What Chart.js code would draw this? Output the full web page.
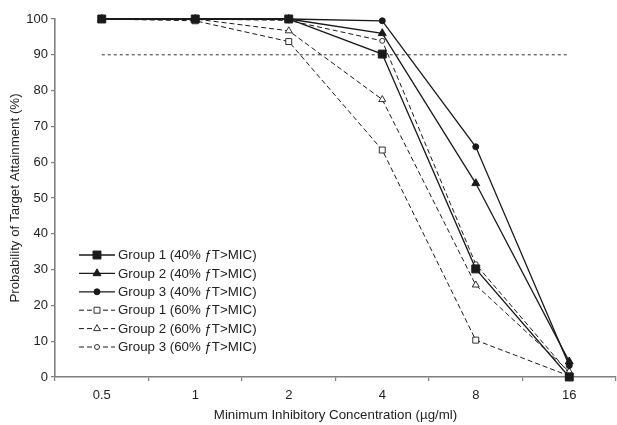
<!DOCTYPE html>
<html>
<head>
<meta charset="utf-8">
<script src="https://cdn.jsdelivr.net/npm/chart.js@4"></script>
<style>
  html, body { margin: 0; padding: 0; background: #fff; overflow: hidden; }
</style>
</head>
<body>
<canvas id="myChart" width="617" height="425"></canvas>
<script>
// MIC categories (µg/ml) and probability of target attainment (%)
const micLabels = ["0.5", "1", "2", "4", "8", "16"];
const yTicks = [0, 10, 20, 30, 40, 50, 60, 70, 80, 90, 100];
const target = [90, 90, 90, 90, 90, 90];

const group1_40 = [100, 100, 100, 90.2, 30.2, 0];
const group2_40 = [100, 100, 100, 96, 54.1, 4.3];
const group3_40 = [100, 100, 100, 99.5, 64.3, 3.2];
const group1_60 = [100, 99.5, 93.7, 63.4, 10.3, 0.3];
const group2_60 = [100, 100, 96.7, 77.5, 25.7, 1.5];
const group3_60 = [100, 100, 99.6, 93.9, 31.5, 1];

const seriesNames = [
  "Group 1 (40% \u0192T>MIC)",
  "Group 2 (40% \u0192T>MIC)",
  "Group 3 (40% \u0192T>MIC)",
  "Group 1 (60% \u0192T>MIC)",
  "Group 2 (60% \u0192T>MIC)",
  "Group 3 (60% \u0192T>MIC)"
];

const ink = "#1a1a1a";
const axisGrey = "#7f7f7f";
const font = "'Liberation Sans', Arial, sans-serif";

function solid(label, data, style, radius) {
  return {
    label, data,
    borderColor: ink, borderWidth: 1.3,
    pointStyle: style, pointRadius: radius, pointHoverRadius: radius,
    pointBackgroundColor: ink, pointBorderColor: ink, pointBorderWidth: 1,
    tension: 0, clip: false
  };
}
function dashed(label, data, style, radius) {
  return {
    label, data,
    borderColor: ink, borderWidth: 1, borderDash: [5, 3],
    pointStyle: style, pointRadius: radius, pointHoverRadius: radius,
    pointBackgroundColor: "#fff", pointBorderColor: ink, pointBorderWidth: 0.9,
    tension: 0, clip: false
  };
}

const datasets = [
  solid(seriesNames[0], group1_40, "rect", 5.6),
  solid(seriesNames[1], group2_40, "triangle", 4.6),
  solid(seriesNames[2], group3_40, "circle", 3),
  dashed(seriesNames[3], group1_60, "rect", 4.2),
  dashed(seriesNames[4], group2_60, "triangle", 4),
  dashed(seriesNames[5], group3_60, "circle", 2.5),
  {
    label: "target", data: target,
    borderColor: ink, borderWidth: 0.9, borderDash: [3, 3],
    pointRadius: 0, tension: 0, clip: false
  }
];

// legend drawn inside the plot, line + marker + text like the original figure
const insideLegend = {
  id: "insideLegend",
  afterDraw(chart) {
    const ctx = chart.ctx;
    const area = chart.chartArea;
    const x0 = area.left + 24;
    const y0 = area.bottom - 122;
    ctx.save();
    ctx.font = "13.3px " + font;
    ctx.textBaseline = "middle";
    for (let i = 0; i < 6; i++) {
      const ds = chart.data.datasets[i];
      const y = y0 + i * 18.4;
      ctx.strokeStyle = ink;
      ctx.lineWidth = ds.borderWidth;
      ctx.setLineDash(ds.borderDash || []);
      ctx.beginPath();
      ctx.moveTo(x0, y);
      ctx.lineTo(x0 + 36, y);
      ctx.stroke();
      ctx.setLineDash([]);
      ctx.fillStyle = ds.pointBackgroundColor;
      ctx.lineWidth = ds.pointBorderWidth;
      Chart.helpers.drawPoint(ctx, { pointStyle: ds.pointStyle, radius: ds.pointRadius, borderWidth: ds.pointBorderWidth }, x0 + 18, y);
      ctx.fillStyle = "#222";
      ctx.fillText(ds.label, x0 + 39, y + 0.5);
    }
    ctx.restore();
  }
};

new Chart(document.getElementById("myChart").getContext("2d"), {
  type: "line",
  data: { labels: micLabels, datasets },
  options: {
    responsive: false,
    animation: false,
    layout: { autoPadding: false, padding: { top: 19, right: 1, left: 0, bottom: 0 } },
    plugins: { legend: { display: false }, tooltip: { enabled: false } },
    scales: {
      x: {
        offset: true,
        grid: { offset: true, drawOnChartArea: false, drawTicks: true, tickLength: 4, color: axisGrey, lineWidth: 1.2 },
        border: { color: axisGrey, width: 1.6 },
        ticks: { color: "#222", font: { family: font, size: 13 }, padding: 7, maxRotation: 0 },
        title: {
          display: true, text: "Minimum Inhibitory Concentration (\u00b5g/ml)",
          color: "#222", font: { family: font, size: 13.3 }, padding: { top: 2, bottom: 2 }
        },
        afterFit(scale) { scale.height = 48; }
      },
      y: {
        min: 0, max: 100,
        afterBuildTicks(scale) { scale.ticks = yTicks.map(v => ({ value: v })); },
        grid: { drawOnChartArea: false, drawTicks: true, tickLength: 4, color: axisGrey, lineWidth: 1.2 },
        border: { color: axisGrey, width: 1.6 },
        ticks: { color: "#222", font: { family: font, size: 13 }, padding: 3 },
        title: {
          display: true, text: "Probability of Target Attainment (%)",
          color: "#222", font: { family: font, size: 13.3 }, padding: { top: 7, bottom: 0 }
        },
        afterFit(scale) { scale.width = 55; }
      }
    }
  },
  plugins: [insideLegend]
});
</script>
</body>
</html>
